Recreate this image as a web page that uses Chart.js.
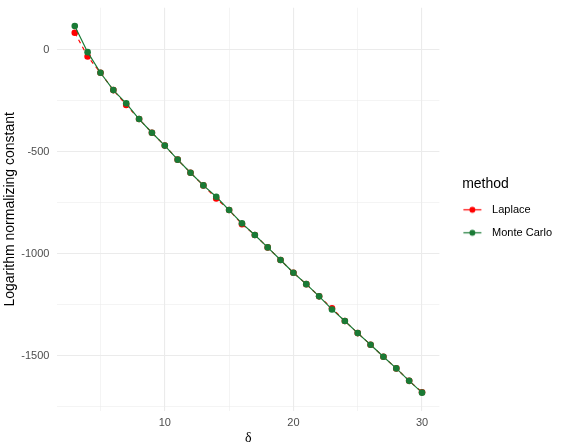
<!DOCTYPE html>
<html><head><meta charset="utf-8">
<script src="https://cdn.jsdelivr.net/npm/chart.js@4/dist/chart.umd.min.js"></script>
<style>html,body{margin:0;padding:0;background:#fff}#wrap{width:562px;height:447px;position:relative}</style>
</head><body><div id="wrap"><canvas id="c" width="562" height="447"></canvas></div>
<script>
// ---- data ----
const deltas = [3,4,5,6,7,8,9,10,11,12,13,14,15,16,17,18,19,20,21,22,23,24,25,26,27,28,29,30];
const monteCarlo = [116,-12,-113,-198,-263,-340,-407,-470,-539,-603,-665,-721,-786,-851,-908,-969,-1031,-1093,-1149,-1209,-1273,-1330,-1389,-1446,-1505,-1562,-1623,-1681];
const laplace = [83,-33,-113,-198,-271,-340,-407,-470,-539,-603,-665,-729,-786,-855,-908,-969,-1031,-1093,-1149,-1209,-1267,-1330,-1389,-1446,-1505,-1562,-1623,-1679];
const seriesNames = ['Laplace','Monte Carlo'];
const legendTitle = 'method';
const xTickValues = [5,10,15,20,25,30];
const xTickLabels = ['','10','','20','','30'];
const yTickValues = [-1750,-1500,-1250,-1000,-750,-500,-250,0];
const yTickLabels = ['','-1500','','-1000','','-500','','0'];
const xTitle = 'δ';
const yTitle = 'Logarithm normalizing constant';

// ---- styling ----
const RED = '#ff0000', GREEN = '#1a7a35';
const TICK_COL = '#4d4d4d', GRID_COL = '#ebebeb';
Chart.defaults.font.family = '"Liberation Sans", Arial, Helvetica, sans-serif';

function expandRange(vals){ const lo=Math.min(...vals), hi=Math.max(...vals), e=(hi-lo)*0.05; return [lo-e, hi+e]; }
const [xMin,xMax] = expandRange(deltas);
const [yMin,yMax] = expandRange(monteCarlo.concat(laplace));

function keyImage(color){
  const c = document.createElement('canvas'); c.width = 40; c.height = 9;
  const g = c.getContext('2d');
  g.strokeStyle = color; g.lineWidth = 1.2;
  g.beginPath(); g.moveTo(14.4, 4.5); g.lineTo(32.4, 4.5); g.stroke();
  g.fillStyle = color; g.beginPath(); g.arc(23.4, 4.5, 3, 0, Math.PI*2); g.fill();
  return c;
}

const toPts = (ys) => deltas.map((x,i)=>({x:x, y:ys[i]}));

const legendWidthFix = {
  id: 'legendWidthFix',
  afterLayout(chart){ if (chart.legend) chart.legend.width = 92.2; }
};

new Chart(document.getElementById('c'), {
  type: 'line',
  plugins: [legendWidthFix],
  data: { datasets: [
    { label: seriesNames[1], data: toPts(monteCarlo), borderColor: GREEN, backgroundColor: GREEN,
      borderWidth: 1.2, pointRadius: 3.3, pointBorderWidth: 0, pointBackgroundColor: GREEN, tension: 0, fill: false },
    { label: seriesNames[0], data: toPts(laplace), borderColor: RED, backgroundColor: RED,
      borderWidth: 1.2, borderDash: [4,4], pointRadius: 3.3, pointBorderWidth: 0, pointBackgroundColor: RED, tension: 0, fill: false }
  ]},
  options: {
    responsive: false, animation: false, devicePixelRatio: 1,
    layout: { padding: { left: 0, top: 7.7, right: 0, bottom: 0 } },
    plugins: {
      tooltip: { enabled: false },
      legend: {
        position: 'right', align: 'center', fullSize: false,
        title: { display: true, text: legendTitle, position: 'center', color: '#000',
                 font: { size: 14 }, padding: { top: 8.7, bottom: -1.6 } },
        labels: {
          usePointStyle: true, pointStyleWidth: 35.2, padding: 12, color: '#000', font: { size: 11 },
          generateLabels: (chart) => {
            const order = [1, 0];
            return order.map(i => {
              const ds = chart.data.datasets[i];
              return { text: ds.label, pointStyle: keyImage(ds.borderColor), fillStyle: ds.borderColor,
                       strokeStyle: ds.borderColor, lineWidth: 0, hidden: false, datasetIndex: i };
            });
          }
        }
      }
    },
    scales: {
      x: {
        type: 'linear', min: xMin, max: xMax,
        afterBuildTicks: (s) => { s.ticks = xTickValues.map(v => ({ value: v })); },
        afterFit: (s) => { s.height = 36; s.paddingLeft = 0; s.paddingRight = 0; },
        border: { display: false },
        grid: { color: GRID_COL, drawTicks: false,
                lineWidth: (ctx) => (ctx.tick && xTickLabels[xTickValues.indexOf(ctx.tick.value)] !== '') ? 1.1 : 0.55 },
        ticks: { autoSkip: false, maxRotation: 0, padding: 5, color: TICK_COL, font: { size: 11 },
                 callback: (v) => { const i = xTickValues.indexOf(v); return i >= 0 ? xTickLabels[i] : ''; } },
        title: { display: true, text: xTitle, color: '#000', padding: { top: 0, bottom: 0 },
                 font: { size: 14, family: '"Liberation Serif", "DejaVu Serif", serif' } }
      },
      y: {
        type: 'linear', min: yMin, max: yMax,
        afterBuildTicks: (s) => { s.ticks = yTickValues.map(v => ({ value: v })); },
        afterFit: (s) => { s.width = 57.4; s.paddingTop = 0; s.paddingBottom = 0; },
        border: { display: false },
        grid: { color: GRID_COL, drawTicks: false,
                lineWidth: (ctx) => (ctx.tick && yTickLabels[yTickValues.indexOf(ctx.tick.value)] !== '') ? 1.1 : 0.55 },
        ticks: { autoSkip: false, padding: 8, color: TICK_COL, font: { size: 11 },
                 callback: (v) => { const i = yTickValues.indexOf(v); return i >= 0 ? yTickLabels[i] : ''; } },
        title: { display: true, text: yTitle, color: '#000', padding: { top: 2, bottom: 0 }, font: { size: 14 } }
      }
    }
  }
});
</script></body></html>
